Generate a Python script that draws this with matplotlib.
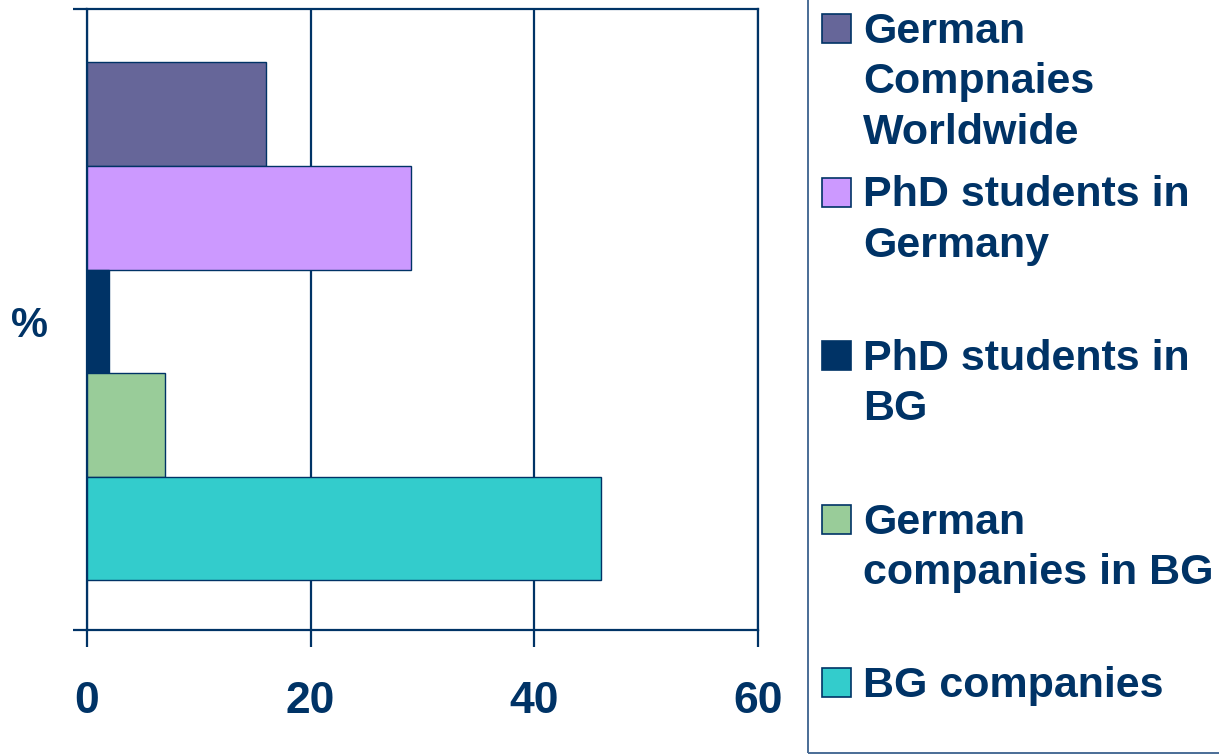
import matplotlib
matplotlib.use('Agg')
import matplotlib.pyplot as plt
from matplotlib.patches import Rectangle

# data
category = '%'
series = ['German\nCompnaies\nWorldwide',
          'PhD students in\nGermany',
          'PhD students in\nBG',
          'German\ncompanies in BG',
          'BG companies']
values = [16, 29, 2, 7, 46]
colors = ['#666699', '#CC99FF', '#003366', '#99CC99', '#33CCCC']
xticks = [0, 20, 40, 60]

navy = '#003366'
plt.rcParams['font.family'] = ['Liberation Sans', 'DejaVu Sans']
plt.rcParams['font.weight'] = 'bold'

W, H = 1219, 754
fig = plt.figure(figsize=(W / 100, H / 100), dpi=100)
ax = fig.add_axes([87 / W, 1 - 630 / H, (758 - 87) / W, (630 - 9) / H])

n = len(values)
bar_h = 0.1668
ys = [(n - 1) / 2 * bar_h - i * bar_h - 0.003 for i in range(n)]
ax.barh(ys, values, height=bar_h, color=colors, edgecolor=navy,
        linewidth=1.0, zorder=3)

ax.set_xlim(0, 60)
ax.set_ylim(-0.5, 0.5)
ax.set_xticks(xticks)
ax.set_yticks([-0.5, 0.5])
ax.set_yticklabels([])
ax.grid(axis='x', color=navy, linewidth=1.6, zorder=1)
for s in ax.spines.values():
    s.set_color(navy)
    s.set_linewidth(1.6)
ax.tick_params(axis='x', length=12, width=1.6, color=navy, pad=25,
               labelsize=32, labelcolor=navy)
ax.tick_params(axis='y', length=10, width=1.6, color=navy)
for lab in ax.get_xticklabels():
    lab.set_fontweight('bold')

ax.set_ylabel(category, rotation=0, fontsize=30, fontweight='bold',
              color=navy, ha='center', va='center')
ax.yaxis.set_label_coords(-0.085, 0.49)

# legend, drawn by hand so the marker sits on the first line
fig.patches.append(Rectangle((808 / W, 1.2 / H), 1, 1.1, transform=fig.transFigure,
                             fill=False, edgecolor='#4a6c96', linewidth=1.4,
                             clip_on=False))
base0 = 43
entry_step = 163.5
line_step = 50.5
msize = 29
for i, (lab, col) in enumerate(zip(series, colors)):
    base = base0 + i * entry_step
    fig.patches.append(Rectangle((822 / W, 1 - base / H), msize / W, msize / H,
                                 transform=fig.transFigure, facecolor=col,
                                 edgecolor=navy, linewidth=1.2))
    for j, line in enumerate(lab.split('\n')):
        fig.text(863 / W, 1 - (base + j * line_step) / H, line,
                 ha='left', va='baseline', fontsize=31, fontweight='bold',
                 color=navy)

fig.savefig('out.png', dpi=100)
